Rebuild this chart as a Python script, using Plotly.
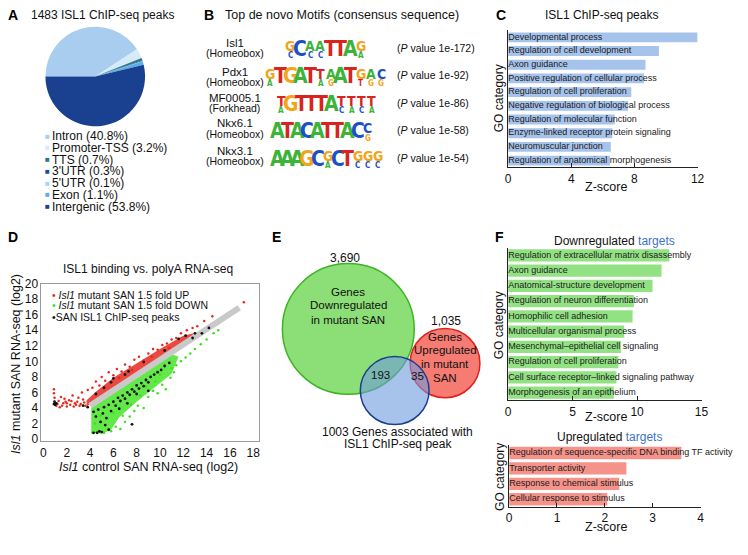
import plotly.graph_objects as go

W, H = 748, 555
def px(x): return x / W
def py(y): return 1 - y / H

FONT = "Liberation Sans, Arial, Helvetica, sans-serif"
LOGO_FONT = "Liberation Sans Narrow, Arial Narrow, DejaVu Sans Condensed, sans-serif"

# ---------------- A: pie ----------------
pie_labels = ["Intron", "Promoter-TSS", "TTS", "3'UTR", "5'UTR", "Exon", "Intergenic"]
pie_values = [40.8, 3.2, 0.7, 0.3, 0.1, 1.1, 53.8]
pie_colors = ["#a9cdee", "#d6ebf8", "#2b7b7e", "#1f4c9b", "#a8d3f2", "#5eaee8", "#1a418f"]

# ---------------- B: motifs ----------------
motif_names = ["Isl1", "Pdx1", "MF0005.1", "Nkx6.1", "Nkx3.1"]
motif_families = ["(Homeobox)", "(Homeobox)", "(Forkhead)", "(Homeobox)", "(Homeobox)"]
motif_top = ["GCAATTAG", "GTGATTAATGAC", "TGTTTATTTT", "ATACATTACC", "AAAGCGCTGGG"]
motif_second = ["C.CC...A", "A....AG..TGG", "A.....CACA", ".........G", ".....A..CCC"]
motif_pvalues = ["1e-172", "1e-92", "1e-86", "1e-58", "1e-54"]
base_colors = {"A": "#3cb43a", "C": "#1f4fc4", "G": "#f2a51a", "T": "#d8231f"}

# ---------------- C: GO ChIP-seq ----------------
go_c_terms = ["Developmental process", "Regulation of cell development", "Axon guidance",
              "Positive regulation of cellular process", "Regulation of cell proliferation",
              "Negative regulation of biological process", "Regulation of molecular function",
              "Enzyme-linked receptor protein signaling", "Neuromuscular junction",
              "Regulation of anatomical morphogenesis"]
go_c_z = [12.0, 9.55, 8.7, 8.6, 7.8, 7.6, 6.75, 6.6, 6.5, 6.45]

# ---------------- D: scatter ----------------
# outlines of the densely packed regions of the cloud
up_region_x = [3.7, 6.0, 8.0, 10.0, 12.6, 12.9, 12.0, 10.0, 8.0, 6.0, 4.5, 3.7]
up_region_y = [4.2, 6.4, 8.4, 10.4, 12.9, 13.6, 13.3, 11.6, 9.8, 7.9, 6.1, 5.0]
down_region_x = [4.1, 4.1, 5.0, 5.8, 6.5, 8.0, 9.5, 11.0, 11.6, 11.0, 8.0, 6.0, 4.1]
down_region_y = [4.2, 0.8, 0.7, 1.2, 2.8, 4.8, 6.6, 8.4, 10.6, 10.9, 7.9, 5.9, 4.2]
unchanged_x = [4.0, 12.0, 16.8]
unchanged_y = [4.3, 12.1, 16.9]
up_x = [0.9, 0.9, 0.95, 1.0, 1.1, 1.3, 1.5, 1.7, 2.0, 2.2, 2.5, 2.8, 3.0, 3.3, 3.5, 3.8, 4.2, 4.5,
        4.8, 5.0, 5.3, 5.6, 6.0, 6.3, 6.7, 7.0, 7.4, 7.8, 8.2, 8.6, 9.0, 9.4, 9.8, 10.2, 10.6,
        11.0, 11.4, 11.8, 12.3, 12.8, 13.2, 13.8, 14.5, 17.2, 2.0, 3.6, 1.4, 6.5, 7.6, 9.3, 10.8,
        1.2, 1.6, 1.9, 2.3, 2.6, 2.9, 3.1, 3.4, 2.4, 1.8, 3.2, 2.7]
up_y = [6.4, 5.9, 5.3, 4.6, 4.3, 4.9, 5.4, 4.6, 4.2, 5.0, 5.6, 4.4, 5.3, 6.0, 4.7, 6.3, 6.6, 7.4,
        6.9, 8.0, 7.5, 8.6, 8.2, 9.0, 8.7, 9.6, 9.3, 10.2, 10.6, 10.1, 11.0, 11.6, 11.5, 12.1, 12.3,
        12.8, 13.0, 13.6, 14.0, 14.3, 14.5, 15.2, 15.8, 17.6, 4.6, 4.3, 4.1, 7.9, 8.9, 10.6, 11.7,
        4.5, 4.3, 4.8, 4.4, 4.2, 4.8, 4.3, 5.1, 4.9, 5.2, 4.5, 4.6]
down_x = [4.2, 4.6, 5.2, 5.8, 6.2, 6.6, 7.0, 7.4, 7.8, 8.1, 8.6, 9.0, 9.4, 9.8, 10.2, 10.5, 10.9,
          11.2, 11.4, 11.8, 12.2, 12.6, 13.0, 13.5, 14.0, 14.6, 15.0, 6.8, 7.5, 8.3, 9.6, 5.5,
          6.0, 4.4, 4.9, 10.0, 11.0, 8.8]
down_y = [0.8, 0.9, 0.8, 1.0, 1.6, 1.3, 2.2, 2.9, 3.6, 4.3, 4.0, 5.4, 6.2, 5.9, 7.0, 6.4, 7.9,
          8.6, 9.5, 10.0, 10.5, 11.0, 11.6, 12.2, 12.8, 13.6, 14.0, 3.0, 4.4, 5.6, 7.4, 2.6,
          3.4, 2.0, 3.0, 8.3, 9.1, 6.8]
chip_x = [0.9, 0.95, 1.0, 1.1, 3.4, 3.8, 4.5, 5.2, 5.8, 6.0, 7.0, 7.3, 8.6, 10.4, 11.6, 12.2, 13.0,
          12.8, 4.3, 4.5, 4.7, 4.9, 5.1, 5.2, 5.4, 5.6, 5.8, 6.0, 6.2, 6.4, 6.6, 6.8, 7.0, 7.2,
          7.4, 7.6, 7.8, 8.0, 8.2, 8.4, 8.6, 8.8, 9.0, 9.2, 9.5, 9.8, 10.1, 10.4, 10.8, 9.0, 8.0,
          7.2, 6.5, 4.3, 4.6, 4.8, 5.0, 5.6, 7.6, 5.3, 13.6, 14.2]
chip_y = [4.5, 4.8, 4.4, 4.6, 4.3, 4.1, 5.8, 6.6, 7.3, 7.8, 8.3, 8.7, 9.9, 11.4, 12.9, 13.3, 13.6,
          13.0, 3.5, 2.9, 3.8, 2.2, 3.3, 4.1, 2.7, 4.4, 3.6, 4.8, 4.3, 5.3, 4.9, 5.6, 5.2, 6.0,
          5.7, 6.4, 6.1, 6.9, 6.5, 7.2, 6.8, 7.6, 7.3, 8.0, 8.3, 8.6, 8.9, 9.4, 9.8, 6.2, 5.8,
          4.6, 3.9, 0.8, 0.8, 1.0, 0.9, 1.2, 1.9, 1.8, 13.6, 14.3]

# ---------------- E: Venn ----------------
venn_down, venn_up, venn_chip = 3690, 1035, 1003
venn_down_chip, venn_up_chip = 193, 35

# ---------------- F: GO targets ----------------
go_down_terms = ["Regulation of extracellular matrix disassembly", "Axon guidance",
                 "Anatomical-structure development", "Regulation of neuron differentiation",
                 "Homophilic cell adhesion", "Multicellular organismal process",
                 "Mesenchymal\u2013epithelial cell signaling", "Regulation of cell proliferation",
                 "Cell surface receptor\u2013linked signaling pathway", "Morphogenesis of an epithelium"]
go_down_z = [12.5, 11.9, 11.2, 9.75, 9.65, 9.0, 8.75, 8.55, 8.4, 8.2]
go_up_terms = ["Regulation of sequence-specific DNA binding TF activity", "Transporter activity",
               "Response to chemical stimulus", "Cellular response to stimulus"]
go_up_z = [3.6, 2.45, 2.3, 2.05]

fig = go.Figure()

# Pie
fig.add_trace(go.Pie(labels=pie_labels, values=pie_values, sort=False, direction="clockwise",
                     rotation=270, marker=dict(colors=pie_colors, line=dict(width=0)),
                     textinfo="none", hoverinfo="label+percent", showlegend=False,
                     domain=dict(x=[px(43), px(144)], y=[py(122), py(20)])))

# Bars
def add_bars(terms, vals, color, xa, ya, width):
    fig.add_trace(go.Bar(x=vals, y=terms, orientation="h", marker=dict(color=color, line=dict(width=0)),
                         width=width, xaxis=xa, yaxis=ya, showlegend=False))
    fig.add_trace(go.Scatter(x=[0] * len(terms), y=terms, mode="text", text=terms,
                             textposition="middle right", textfont=dict(size=9, color="#1a1a1a"),
                             cliponaxis=False, xaxis=xa, yaxis=ya, showlegend=False, hoverinfo="skip"))

add_bars(go_c_terms, go_c_z, "#a6c3ec", "x", "y", 0.72)
add_bars(go_down_terms, go_down_z, "#92e283", "x3", "y3", 0.8)
add_bars(go_up_terms, go_up_z, "#f5938b", "x4", "y4", 0.8)

# Scatter D
fig.add_trace(go.Scatter(x=down_region_x, y=down_region_y, fill="toself", fillcolor="rgba(70,228,40,0.85)",
                         mode="lines", line=dict(width=0), xaxis="x2", yaxis="y2", showlegend=False,
                         hoverinfo="skip"))
fig.add_trace(go.Scatter(x=up_region_x, y=up_region_y, fill="toself", fillcolor="rgba(232,40,30,0.85)",
                         mode="lines", line=dict(width=0), xaxis="x2", yaxis="y2", showlegend=False,
                         hoverinfo="skip"))
fig.add_trace(go.Scatter(x=unchanged_x, y=unchanged_y, mode="lines", line=dict(color="#c9c9c9", width=6),
                         xaxis="x2", yaxis="y2", showlegend=False, hoverinfo="skip"))
fig.add_trace(go.Scatter(x=up_x, y=up_y, mode="markers", marker=dict(color="#e8281e", size=2.5),
                         xaxis="x2", yaxis="y2", showlegend=False))
fig.add_trace(go.Scatter(x=down_x, y=down_y, mode="markers", marker=dict(color="#3ce01e", size=2.5),
                         xaxis="x2", yaxis="y2", showlegend=False))
fig.add_trace(go.Scatter(x=chip_x, y=chip_y, mode="markers", marker=dict(color="#111111", size=2.8),
                         xaxis="x2", yaxis="y2", showlegend=False))

ann = []
def A(x, y, text, size=12, color="#111", xanchor="center", yanchor="middle", angle=0, family=FONT, **kw):
    ann.append(dict(x=px(x), y=py(y), xref="paper", yref="paper", text=text, showarrow=False,
                    font=dict(size=size, color=color, family=family), xanchor=xanchor,
                    yanchor=yanchor, textangle=angle, **kw))

# Panel letters
for lt, x, y in [("A", 10, 8), ("B", 209, 8), ("C", 505, 8), ("D", 10, 235), ("E", 277, 235), ("F", 503, 235)]:
    A(x, y, "<b>%s</b>" % lt, size=14, color="#000")

# Titles
A(101, 8, "1483 ISL1 ChIP-seq peaks", 12)
A(344, 8, "Top de novo Motifs (consensus sequence)", 12.5)
A(607, 8, "ISL1 ChIP-seq peaks", 12)
A(147, 268, "ISL1 binding vs. polyA RNA-seq", 12)
A(620, 239, 'Downregulated <span style="color:#3d74c4">targets</span>', 12)
A(615, 439, 'Upregulated <span style="color:#3d74c4">targets</span>', 12)

# Pie legend
leg_y = [132, 144, 156, 168, 180, 192, 204]
for lab, val, col, yy in zip(pie_labels, pie_values, pie_colors, leg_y):
    A(45, yy, "\u25a0", 8, col)
    A(48, yy, "%s (%.1f%%)" % (lab, val), 12, "#111", xanchor="left")

# Motifs
name_y = [37, 66, 93, 119, 147]
logo_y = [43, 71, 99, 127, 155]
logo_x0 = [291, 271, 282, 278, 278]
for i in range(5):
    A(235, name_y[i], motif_names[i], 11.5)
    A(235, name_y[i] + 10.5, motif_families[i], 10.5)
    A(397, logo_y[i] - 1, "(<i>P</i> value %s)" % motif_pvalues[i], 10.5, xanchor="left")
    for j, (t, s) in enumerate(zip(motif_top[i], motif_second[i])):
        xx = logo_x0[i] + j * 10.2
        if s == ".":
            A(xx, logo_y[i], "<b>%s</b>" % t, 21, base_colors[t], family=LOGO_FONT)
        else:
            A(xx, logo_y[i] - 3, "<b>%s</b>" % t, 14, base_colors[t], family=LOGO_FONT)
            A(xx, logo_y[i] + 7, "<b>%s</b>" % s, 8, base_colors[s], family=LOGO_FONT)

# Axis titles for bar panels
A(503, 93, "GO category", 12, angle=-90)
A(503, 325, "GO category", 12, angle=-90)
A(503, 480, "GO category", 12, angle=-90)
A(611, 184, "Z-score", 12.5)
A(611, 419, "Z-score", 12.5)
A(611, 532, "Z-score", 12.5)

# D legend & axis titles
A(48, 294, '<span style="color:#e8281e">\u2022</span> <i>Isl1</i> mutant SAN 1.5 fold UP', 10.5, xanchor="left")
A(48, 305, '<span style="color:#3ce01e">\u2022</span> <i>Isl1</i> mutant SAN 1.5 fold DOWN', 10.5, xanchor="left")
A(48, 317, '<span style="color:#111">\u2022</span>SAN ISL1 ChIP-seq peaks', 10.5, xanchor="left")
A(13, 365, "<i>Isl1</i> mutant SAN RNA-seq (log2)", 12.5, angle=-90)
A(147, 470, "<i>Isl1</i> control SAN RNA-seq (log2)", 12.5)

# Venn labels
A(347, 257, "{:,}".format(venn_down), 12)
A(350, 291, "Genes", 11.5)
A(350, 305, "Downregulated", 11.5)
A(350, 320, "in mutant SAN", 11.5)
A(449, 321, "{:,}".format(venn_up), 12)
A(448, 337, "Genes", 11.5)
A(448, 351, "Upregulated", 11.5)
A(448, 365, "in mutant", 11.5)
A(448, 379, "SAN", 11.5)
A(383, 376, str(venn_down_chip), 11.5)
A(420, 377, str(venn_up_chip), 11.5)
A(400, 434, "%d Genes associated with" % venn_chip, 12)
A(400, 447, "ISL1 ChIP-seq peak", 12)

# Venn circles (radius from set size)
k = 1.1
circles = [
    (350, 329, venn_down, "rgba(120,216,95,0.85)", "#3cb521"),
    (448, 364, venn_up, "rgba(243,100,90,0.85)", "#e0201c"),
    (397, 392, venn_chip, "rgba(110,155,222,0.6)", "#1c3f8c"),
]
shapes = []
for cx, cy, n, fc, lc in circles:
    r = k * n ** 0.5
    shapes.append(dict(type="circle", xref="x5", yref="y5", x0=cx - r, x1=cx + r, y0=cy - r, y1=cy + r,
                       fillcolor=fc, line=dict(color=lc, width=1.5), layer="above"))

axis_common = dict(showgrid=False, zeroline=False)
bar_x = dict(showline=True, linecolor="#222", ticks="inside", ticklen=4, tickcolor="#222",
             tickfont=dict(size=12), **axis_common)
bar_y = dict(autorange="reversed", showticklabels=False, showline=True, linecolor="#222", ticks="",
             **axis_common)
fig.update_layout(
    width=W, height=H, margin=dict(l=0, r=0, t=0, b=0), paper_bgcolor="white",
    plot_bgcolor="rgba(0,0,0,0)",
    font=dict(family=FONT, color="#111"),
    annotations=ann, shapes=shapes,
    xaxis=dict(domain=[px(512), px(704)], range=[0, 12], tickvals=[0, 4, 8, 12], anchor="y", **bar_x),
    yaxis=dict(domain=[py(164), py(24)], anchor="x", **bar_y),
    xaxis3=dict(domain=[px(512), px(708)], range=[0, 15], tickvals=[0, 5, 10, 15], anchor="y3", **bar_x),
    yaxis3=dict(domain=[py(402), py(246)], anchor="x3", **bar_y),
    xaxis4=dict(domain=[px(513), px(707)], range=[0, 4], tickvals=[0, 1, 2, 3, 4], anchor="y4", **bar_x),
    yaxis4=dict(domain=[py(511), py(448)], anchor="x4", **bar_y),
    xaxis2=dict(domain=[px(39), px(259)], range=[-0.17, 18.46], tickvals=list(range(0, 19, 2)),
                anchor="y2", showline=True, mirror=True, linecolor="#9a9a9a", ticks="",
                tickfont=dict(size=12), **axis_common),
    yaxis2=dict(domain=[py(444), py(282.7)], range=[-0.3, 20.0], tickvals=list(range(0, 21, 2)),
                anchor="x2", showline=True, mirror=True, linecolor="#9a9a9a", ticks="",
                tickfont=dict(size=12), **axis_common),
    xaxis5=dict(domain=[px(250), px(500)], range=[250, 500], anchor="y5", visible=False, **axis_common),
    yaxis5=dict(domain=[py(470), py(250)], range=[470, 250], anchor="x5", visible=False, **axis_common),
)

fig.write_html("out.html", config={"displayModeBar": False},
               post_script="document.body.style.margin='0px';document.body.style.overflow='hidden';")
